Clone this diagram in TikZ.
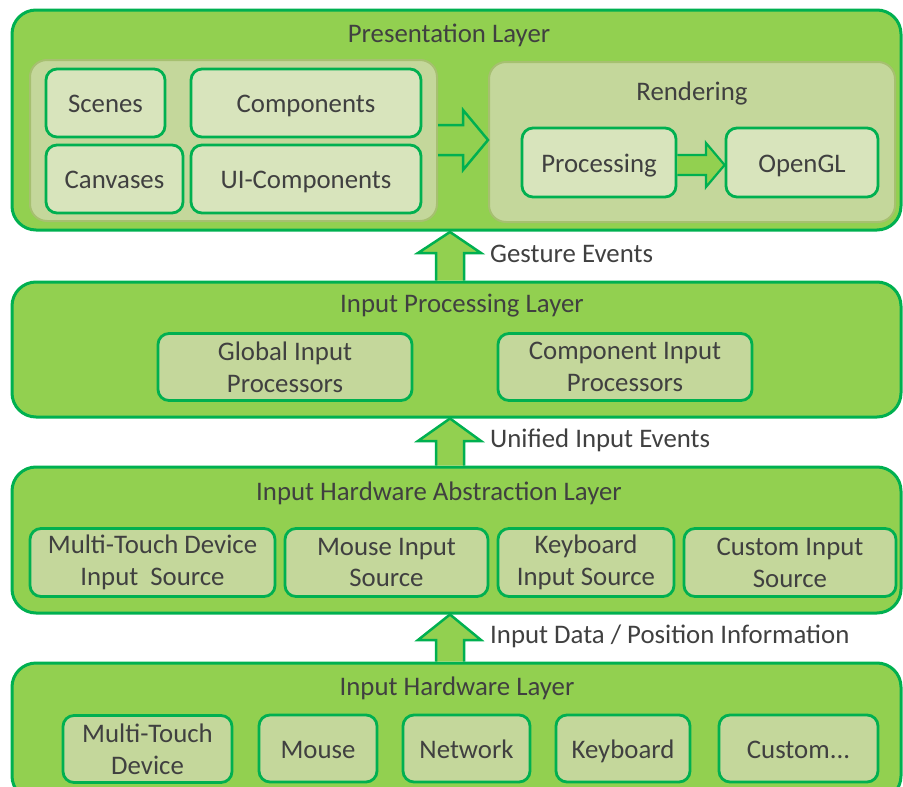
\documentclass[tikz,border=0pt]{standalone}
\usepackage{fontspec}
\setmainfont{Carlito}
\definecolor{layerGreen}{HTML}{92D050}
\definecolor{lineGreen}{HTML}{00B050}
\definecolor{panelFill}{HTML}{C4D79B}
\definecolor{panelEdge}{HTML}{A6C070}
\definecolor{boxLight}{HTML}{D8E4BC}
\definecolor{txt}{HTML}{404040}
\tikzset{
  every node/.style={font=\fontsize{26.8}{31.8}\selectfont, text=txt, inner sep=0pt},
  layer/.style={draw=lineGreen, fill=layerGreen, line width=3pt, rounded corners=24pt},
  panel/.style={draw=panelEdge, fill=panelFill, line width=2pt, rounded corners=17pt},
  lightbox/.style={draw=lineGreen, fill=boxLight, line width=2.8pt, rounded corners=11pt, align=center},
  olivebox/.style={draw=lineGreen, fill=panelFill, line width=2.8pt, rounded corners=11pt, align=center},
  oneline/.style={text height=22pt, text depth=3pt},
  blockarrow/.style={draw=lineGreen, fill=layerGreen, line width=2.5pt, line join=miter},
  arrowlabel/.style={anchor=west},
}
\begin{document}
\begin{tikzpicture}[x=1pt,y=-1pt]
\useasboundingbox (0,0) rectangle (903,787);
\clip (0,0) rectangle (903,787);

% ---- Presentation layer ----
\node[layer, minimum width=889pt, minimum height=220pt] (pres) at (456.5,120) {};
\node (presT) at (449,35) {Presentation Layer};
\node[panel, minimum width=407pt, minimum height=161pt] (scenepanel) at (233.5,140.5) {};
\node[lightbox, oneline, minimum width=119pt, minimum height=68pt] (scenes) at (105.5,103) {Scenes};
\node[lightbox, oneline, minimum width=230pt, minimum height=68pt] (comps) at (306,103) {Components};
\node[lightbox, oneline, minimum width=137pt, minimum height=68pt] (canv) at (114.5,179) {Canvases};
\node[lightbox, oneline, minimum width=230pt, minimum height=68pt] (uicomps) at (306,179) {UI-Components};
\node[panel, minimum width=406pt, minimum height=160pt] (render) at (692,142) {};
\node (renderT) at (692,93) {Rendering};
\node[lightbox, oneline, minimum width=154pt, minimum height=69pt] (proc) at (599,162.5) {Processing};
\node[lightbox, oneline, minimum width=152pt, minimum height=69pt] (ogl) at (802,162.5) {OpenGL};

% block arrow: scene panel -> rendering
\draw[blockarrow] (scenepanel.east |- 0,125) -- (463,125) -- (463,110) -- (render.west |- 0,140)
  -- (463,170) -- (463,155) -- (scenepanel.east |- 0,155);
% block arrow: processing -> OpenGL
\draw[blockarrow, line width=2.2pt] (proc.east |- 0,155) -- (706,155) -- (706,143) -- (ogl.west |- 0,165)
  -- (706,187) -- (706,175) -- (proc.east |- 0,175);

% ---- Input processing layer ----
\node[layer, minimum width=889pt, minimum height=135pt] (ipl) at (456.5,349.5) {};
\node (iplT) at (462,306) {Input Processing Layer};
\node[olivebox, minimum width=254pt, minimum height=67pt] (gip) at (285,367) {Global Input\\Processors};
\node[olivebox, minimum width=254pt, minimum height=67pt] (cip) at (625,367) {Component Input\\Processors};

% ---- Input hardware abstraction layer ----
\node[layer, minimum width=889pt, minimum height=146pt] (ihal) at (456.5,540) {};
\node (ihalT) at (439,493) {Input Hardware Abstraction Layer};
\node[olivebox, minimum width=245pt, minimum height=68pt] (mtis) at (152.5,562.5) {Multi-Touch Device\\Input\ \ Source};
\node[olivebox, minimum width=203pt, minimum height=68pt] (mis) at (386.5,562.5) {Mouse Input\\Source};
\node[olivebox, minimum width=176pt, minimum height=68pt] (kis) at (586,562.5) {Keyboard\\Input Source};
\node[olivebox, minimum width=212pt, minimum height=68pt] (cis) at (790,562.5) {Custom Input\\Source};

% ---- Input hardware layer ----
\node[layer, minimum width=889pt, minimum height=137pt] (ihl) at (456.5,731.5) {};
\node (ihlT) at (457,688) {Input Hardware Layer};
\node[olivebox, minimum width=169pt, minimum height=67pt] (mtd) at (147.5,749) {Multi-Touch\\Device};
\node[olivebox, oneline, minimum width=118pt, minimum height=67pt] (mouse) at (318,748.5) {Mouse};
\node[olivebox, oneline, minimum width=127pt, minimum height=67pt] (net) at (466.5,748.5) {Network};
\node[olivebox, oneline, minimum width=134pt, minimum height=67pt] (kbd) at (623,748.5) {Keyboard};
\node[olivebox, oneline, minimum width=159pt, minimum height=67pt] (cust) at (798.5,748.5) {Custom...};

% ---- upward block arrows between layers ----
\draw[blockarrow] (436,0 |- ipl.north) -- (436,253) -- (418,253) -- (450,232) -- (481,253)
  -- (464,253) -- (464,0 |- ipl.north);
\node[arrowlabel] (gest) at (490,254) {Gesture Events};

\draw[blockarrow] (436,0 |- ihal.north) -- (436,441) -- (418,441) -- (450,0 |- ipl.south) -- (481,441)
  -- (464,441) -- (464,0 |- ihal.north);
\node[arrowlabel] (unif) at (490,440) {Unified Input Events};

\draw[blockarrow] (436,0 |- ihl.north) -- (436,640) -- (418,640) -- (450,0 |- ihal.south) -- (481,640)
  -- (464,640) -- (464,0 |- ihl.north);
\node[arrowlabel] (idata) at (490,636) {Input Data / Position Information};
\end{tikzpicture}
\end{document}
